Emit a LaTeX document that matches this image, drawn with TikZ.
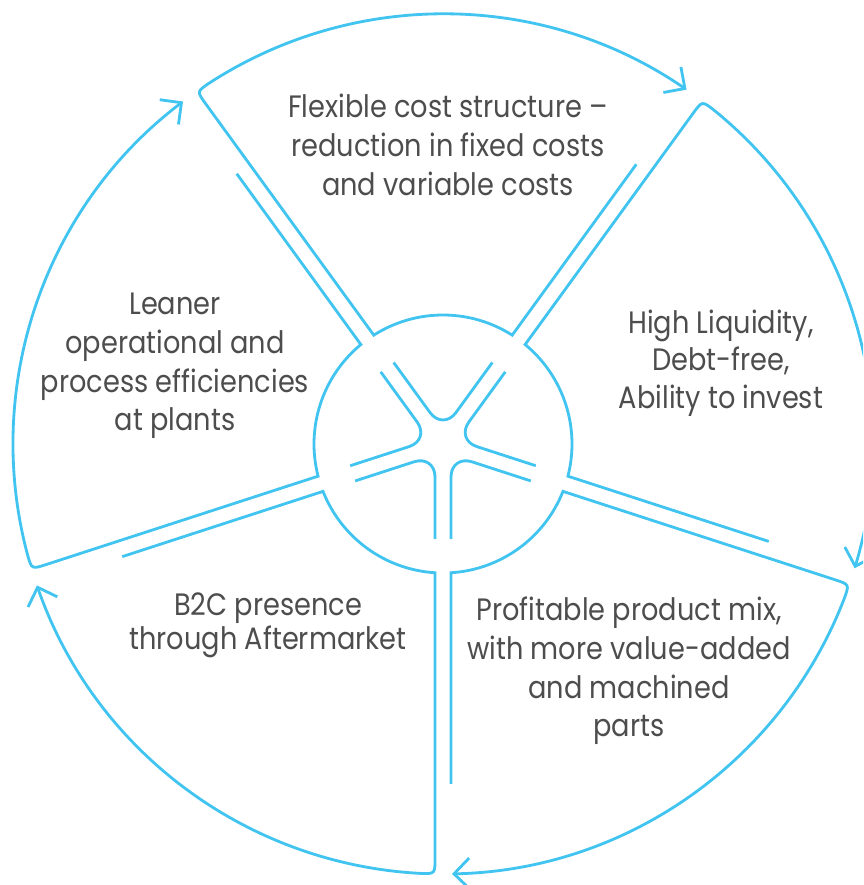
\documentclass[tikz,border=0pt]{standalone}
\usepackage{fontspec}
\setmainfont{Poppins}[FakeStretch=0.88]
\usetikzlibrary{arrows.meta}
\definecolor{ringblue}{RGB}{65,196,240}
\definecolor{textgrey}{RGB}{77,77,77}

\begin{document}
\begin{tikzpicture}[x=0.02cm, y=0.02cm, line width=1.6pt,
        >={Straight Barb[length=0.31cm, width=0.62cm]}]
      \tikzstyle{rim} = [draw=ringblue, line join=miter]
      \tikzstyle{blurb} = [font=\fontsize{17.6}{22}\selectfont, text=textgrey, align=center]
      \useasboundingbox (-443,-441) rectangle (420,444);
      \clip (-443,-441) rectangle (420,444);
      % five sectors: short spoke side, hub arc, long spoke side, outer arc
      \draw[rim,->] (55.35:340) -- (57.55:129) arc[start angle=57.55, end angle=122.45, radius=129]
        -- (124.9:415) .. controls (124.93:430) .. (122.93:430) arc[start angle=122.93, end angle=55.5, radius=430];
      \draw[rim,->] (127.35:340) -- (129.55:129) arc[start angle=129.55, end angle=194.45, radius=129]
        -- (196.9:415) .. controls (196.93:430) .. (194.93:430) arc[start angle=194.93, end angle=127.2, radius=430];
      \draw[rim,->] (199.35:340) -- (201.55:129) arc[start angle=201.55, end angle=266.45, radius=129]
        -- (268.9:415) .. controls (268.93:430) .. (266.93:430) arc[start angle=266.93, end angle=199.2, radius=430];
      \draw[rim,->] (271.35:340) -- (273.55:129) arc[start angle=273.55, end angle=338.45, radius=129]
        -- (340.9:415) .. controls (340.93:430) .. (338.93:430) arc[start angle=338.93, end angle=271.2, radius=430];
      \draw[rim,->] (343.35:340) -- (345.55:129) arc[start angle=345.55, end angle=410.45, radius=129]
        -- (412.9:415) .. controls (412.93:430) .. (410.93:430) arc[start angle=410.93, end angle=343.2, radius=430];
      % star in the hub
      \draw[rim, rounded corners=0.44cm] (58.81:95.3) -- (90:13.6) -- (121.19:95.3);
      \draw[rim, rounded corners=0.44cm] (130.81:95.3) -- (162:13.6) -- (193.19:95.3);
      \draw[rim, rounded corners=0.44cm] (202.81:95.3) -- (234:13.6) -- (265.19:95.3);
      \draw[rim, rounded corners=0.44cm] (274.81:95.3) -- (306:13.6) -- (337.19:95.3);
      \draw[rim, rounded corners=0.44cm] (346.81:95.3) -- (18:13.6) -- (409.19:95.3);
      \node (flexcost) [blurb] at (5,299) {Flexible cost structure --\\reduction in fixed costs\\and variable costs};
      \node (liquidity) [blurb, font=\fontsize{17.6}{21.3}\selectfont] at (278,81) {High Liquidity,\\Debt-free,\\Ability to invest};
      \node (productmix) [blurb] at (186,-227) {Profitable product mix,\\with more value-added\\and machined\\parts};
      \node (btoc) [blurb, font=\fontsize{17.6}{19.3}\selectfont] at (-175,-181) {B2C presence\\through Aftermarket};
      \node (leaner) [blurb] at (-268,78) {Leaner\\operational and\\process efficiencies\\at plants};
    \end{tikzpicture}
\end{document}
